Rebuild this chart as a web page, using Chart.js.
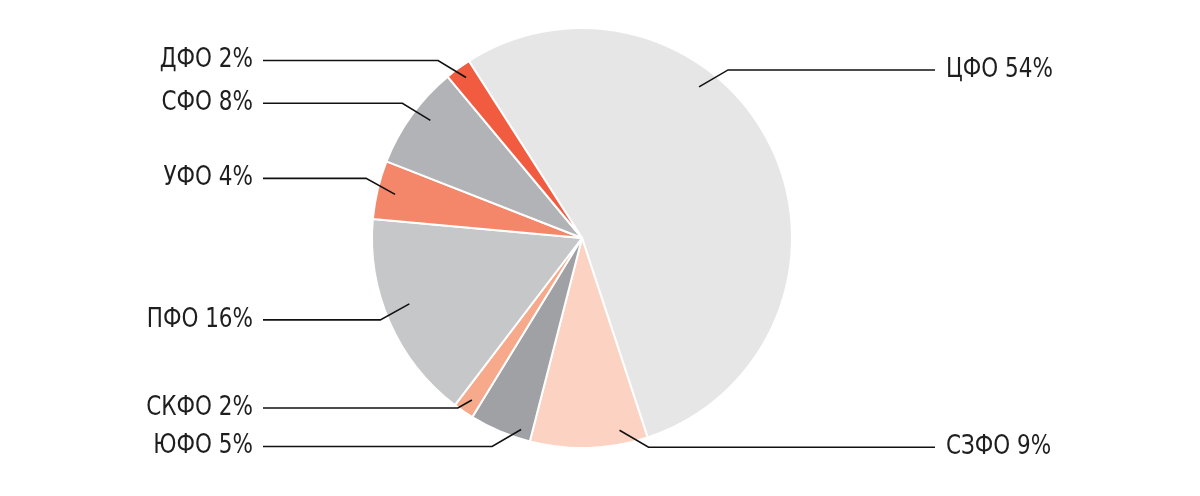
<!DOCTYPE html>
<html><head><meta charset="utf-8">
<script src="https://cdn.jsdelivr.net/npm/chart.js@4"></script>
<style>html,body{margin:0;padding:0;background:#fff}#wrap{width:1200px;height:496px}</style>
</head><body><div id="wrap"><canvas id="c" width="1200" height="496"></canvas></div>
<script>
const categories = ['ЦФО','СЗФО','ЮФО','СКФО','ПФО','УФО','СФО','ДФО'];
const shares = [54, 9.06, 4.75, 1.6, 16.1, 4.5, 8, 2];
const percentLabels = ['54%','9%','5%','2%','16%','4%','8%','2%'];
const colors = ['#e6e6e6','#fcd3c2','#a0a1a5','#f6a98b','#c6c7c9','#f4866a','#b2b3b6','#f15c40'];
// label layout: fraction along slice & radius fraction for anchor, side, elbow dx/dy
const labelLayout = [
  {f:0.362, r:0.91, side:1, ex:29, ey:-17},
  {f:0.22, r:0.933, side:1, ex:29, ey:17},
  {f:0.19, r:0.957, side:-1, ex:29, ey:17},
  {f:0.47, r:0.933, side:-1, ex:14, ey:8},
  {f:0.55, r:0.88, side:-1, ex:29, ey:16},
  {f:0.49, r:0.914, side:-1, ex:29, ey:-16},
  {f:0.57, r:0.914, side:-1, ex:28, ey:-17},
  {f:0.55, r:0.943, side:-1, ex:28, ey:-17}
];
const leaderPlugin = {
  id:'leaders',
  afterDatasetsDraw(chart){
    const ctx = chart.ctx;
    const meta = chart.getDatasetMeta(0);
    ctx.save();
    ctx.font = '26px "Liberation Sans Narrow", "DejaVu Sans Condensed", sans-serif';
    ctx.textBaseline = 'middle';
    const sx = 0.92;
    meta.data.forEach((arc, i) => {
      const L = labelLayout[i];
      const p = arc.getProps(['x','y','startAngle','endAngle','outerRadius'], true);
      const a = p.startAngle + (p.endAngle - p.startAngle) * L.f;
      const r = p.outerRadius * L.r;
      const ax = p.x + Math.cos(a) * r, ay = p.y + Math.sin(a) * r;
      const bx = ax + L.side * L.ex, by = ay + L.ey;
      const endX = L.side > 0 ? 935 : 263;
      ctx.strokeStyle = '#111';
      ctx.lineWidth = 1.6;
      ctx.beginPath();
      ctx.moveTo(ax, ay); ctx.lineTo(bx, by); ctx.lineTo(endX, by);
      ctx.stroke();
      ctx.fillStyle = '#1e1e1e';
      ctx.textAlign = L.side > 0 ? 'left' : 'right';
      const tx = L.side > 0 ? 946 : 253;
      ctx.save();
      ctx.translate(tx, by);
      ctx.scale(sx, 1);
      ctx.fillText(categories[i] + ' ' + percentLabels[i], 0, 0);
      ctx.restore();
    });
    ctx.restore();
  }
};
new Chart(document.getElementById('c'), {
  type:'pie',
  data:{labels:categories, datasets:[{data:shares, backgroundColor:colors, borderColor:'#ffffff', borderWidth:2}]},
  options:{
    responsive:false, animation:false,
    rotation:-32.6,
    layout:{padding:{left:371, right:407, top:27, bottom:47}},
    plugins:{legend:{display:false}, tooltip:{enabled:false}}
  },
  plugins:[leaderPlugin]
});
</script></body></html>
